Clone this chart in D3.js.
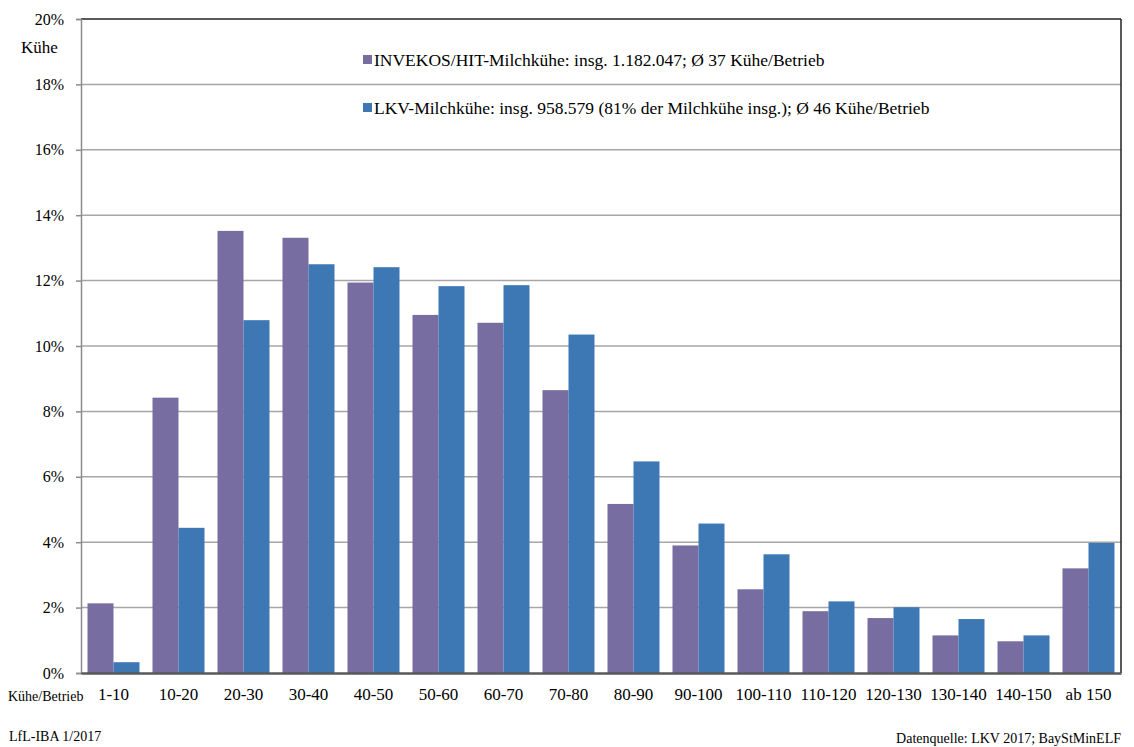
<!DOCTYPE html>
<html><head><meta charset="utf-8">
<script src="https://cdn.jsdelivr.net/npm/d3@7"></script>
<style>
body{margin:0;background:#fff;}
text{font-family:"Liberation Serif","Times New Roman",serif;fill:#000;}
</style></head>
<body><svg id="chart" width="1134" height="747"></svg>
<script>
// Herd size classes (cows per farm)
const categories = ["1-10","10-20","20-30","30-40","40-50","50-60","60-70","70-80","80-90","90-100","100-110","110-120","120-130","130-140","140-150","ab 150"];
// Share of dairy cows per class, in percent
const invekos = [2.13,8.42,13.52,13.31,11.94,10.95,10.71,8.65,5.17,3.90,2.56,1.89,1.68,1.15,0.97,3.20];
const lkv     = [0.33,4.44,10.79,12.50,12.41,11.83,11.86,10.35,6.47,4.57,3.63,2.19,2.01,1.65,1.15,3.98];
const seriesNames = ["INVEKOS/HIT-Milchkühe: insg. 1.182.047; Ø 37 Kühe/Betrieb",
                     "LKV-Milchkühe: insg. 958.579 (81% der Milchkühe insg.); Ø 46 Kühe/Betrieb"];
const seriesColors = ["#786da0","#3d78b5"];
const yTicks = [0,2,4,6,8,10,12,14,16,18,20];

const svg = d3.select("#chart");
const m = {left:81, right:1121, top:19, bottom:673};

const x0 = d3.scaleBand().domain(categories).range([m.left, m.right]).paddingInner(0.2).paddingOuter(0.1);
const x1 = d3.scaleBand().domain([0,1]).range([0, x0.bandwidth()]);
const y = d3.scaleLinear().domain([0,20]).range([m.bottom, m.top]);

// gridlines
svg.append("g").selectAll("line").data(yTicks.filter(t=>t>0 && t<20)).join("line")
  .attr("x1", m.left).attr("x2", m.right)
  .attr("y1", d=>y(d)).attr("y2", d=>y(d))
  .attr("stroke","#a6a6a6").attr("stroke-width",1.5);

// top and right frame
svg.append("line").attr("x1",m.left).attr("x2",m.right).attr("y1",y(20)).attr("y2",y(20)).attr("stroke","#222").attr("stroke-width",1.5);
svg.append("line").attr("x1",m.right).attr("x2",m.right).attr("y1",y(20)).attr("y2",y(0)).attr("stroke","#222").attr("stroke-width",1.5);

// bars
const data = categories.map((c,i)=>({c, v:[invekos[i], lkv[i]]}));
const groups = svg.append("g").selectAll("g").data(data).join("g")
  .attr("transform", d=>`translate(${x0(d.c)},0)`);
groups.selectAll("rect").data(d=>d.v.map((v,k)=>({v,k}))).join("rect")
  .attr("x", d=>x1(d.k)).attr("width", x1.bandwidth())
  .attr("y", d=>y(d.v)).attr("height", d=>y(0)-y(d.v))
  .attr("fill", d=>seriesColors[d.k]);

// y axis
const yAxis = d3.axisLeft(y).tickValues(yTicks).tickFormat(d=>d+"%").tickSize(5).tickPadding(12);
const ya = svg.append("g").attr("transform",`translate(${m.left},0)`).call(yAxis);
ya.select(".domain").attr("stroke","#8c8c8c").attr("stroke-width",1.5);
ya.selectAll(".tick line").attr("stroke","#8c8c8c").attr("stroke-width",1.5);
ya.selectAll(".tick text").attr("font-size",16).attr("font-family","Liberation Serif").attr("fill","#000");

// x axis
const xAxis = d3.axisBottom(x0).tickSize(0).tickPadding(15);
const xa = svg.append("g").attr("transform",`translate(0,${m.bottom})`).call(xAxis);
xa.select(".domain").attr("stroke","#595959").attr("stroke-width",2.5);
xa.selectAll(".tick text").attr("font-size",17).attr("font-family","Liberation Serif").attr("fill","#000");

// axis titles
svg.append("text").attr("x",21).attr("y",53).attr("font-size",17).text("Kühe");
svg.append("text").attr("x",8).attr("y",701).attr("font-size",14).text("Kühe/Betrieb");

// legend
const legend = svg.append("g");
seriesNames.forEach((n,i)=>{
  const ly = 66 + i*48;
  legend.append("rect").attr("x",363).attr("y",ly-11).attr("width",9).attr("height",9).attr("fill",seriesColors[i]);
  legend.append("text").attr("x",374).attr("y",ly).attr("font-size",17.5).text(n);
});

// footnotes
svg.append("text").attr("x",9).attr("y",741).attr("font-size",14).text("LfL-IBA 1/2017");
svg.append("text").attr("x",1121).attr("y",743).attr("font-size",14).attr("text-anchor","end").text("Datenquelle: LKV 2017; BayStMinELF");
</script></body></html>
